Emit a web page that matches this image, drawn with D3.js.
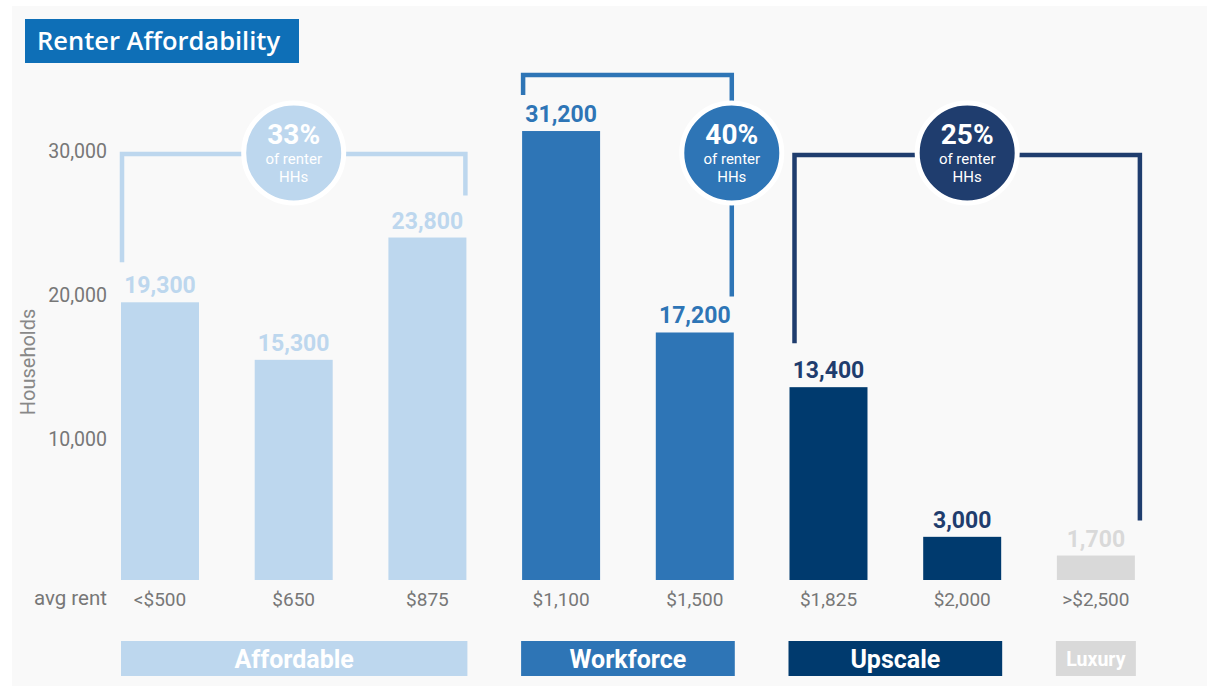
<!DOCTYPE html>
<html><head><meta charset="utf-8">
<script src="https://cdn.jsdelivr.net/npm/d3@7"></script>
<style>body{margin:0;background:#fff;}svg{display:block;font-family:Roboto,"Open Sans",sans-serif;}</style>
</head><body>
<svg id="c" width="1207" height="686"></svg>
<script>
const categories = ["<$500","$650","$875","$1,100","$1,500","$1,825","$2,000",">$2,500"];
const households = [19300,15300,23800,31200,17200,13400,3000,1700];
const segmentOf = ["Affordable","Affordable","Affordable","Workforce","Workforce","Upscale","Upscale","Luxury"];
const segments = ["Affordable","Workforce","Upscale","Luxury"];
const segmentShare = ["33%","40%","25%",null];
const yTicks = [10000,20000,30000];
const colors = {Affordable:"#bdd7ee",Workforce:"#2e75b6",Upscale:"#003a6e",Luxury:"#d9d9d9"};
const bracketColors = {Affordable:"#bdd7ee",Workforce:"#2e75b6",Upscale:"#1f3d6e"};

const svg = d3.select("#c");
svg.append("rect").attr("x",12).attr("y",6).attr("width",1195).attr("height",680).attr("fill","#f9f9f9");

// title
svg.append("rect").attr("x",25).attr("y",19).attr("width",274).attr("height",44).attr("fill","#0e6fb7");
svg.append("text").attr("x",37).attr("y",50).attr("fill","#fff").attr("font-family","'Open Sans',sans-serif")
  .attr("font-size",25.5).attr("font-weight",600).text("Renter Affordability");

const step = 133.7, pi = 0.4167, po = 0.2;
const r0 = 121 - step*po;
const x = d3.scaleBand().domain(categories).range([r0, r0 + step*(categories.length - pi + 2*po)]).paddingInner(pi).paddingOuter(po);
const y = d3.scaleLinear().domain([0,30000]).range([580,148.3]);
const bw = x.bandwidth();

// y axis
const yAxis = d3.axisLeft(y).tickValues(yTicks).tickFormat(d3.format(",")).tickSize(0).tickPadding(0);
const ya = svg.append("g").attr("transform","translate(107,3)").call(yAxis);
ya.select(".domain").remove();
ya.selectAll("text").attr("font-size",19.5).attr("fill","#777").attr("font-family","Roboto,sans-serif");
svg.append("text").attr("transform","translate(35,362) rotate(-90)").attr("text-anchor","middle")
  .attr("font-size",20).attr("fill","#888").text("Households");

// x axis
const xAxis = d3.axisBottom(x).tickSize(0).tickPadding(0);
const xa = svg.append("g").attr("transform","translate(0,592)").call(xAxis);
xa.select(".domain").remove();
xa.selectAll("text").attr("font-size",19).attr("fill","#777").attr("font-family","Roboto,sans-serif");
svg.append("text").attr("x",107).attr("y",605).attr("text-anchor","end").attr("font-size",20.5).attr("fill","#777").text("avg rent");

// bars
svg.selectAll(".bar").data(categories).join("rect").attr("class","bar")
  .attr("x",d=>x(d)).attr("width",bw)
  .attr("y",(d,i)=>y(households[i])).attr("height",(d,i)=>y(0)-y(households[i]))
  .attr("fill",(d,i)=>colors[segmentOf[i]]);
svg.selectAll(".val").data(categories).join("text").attr("class","val")
  .attr("x",d=>x(d)+bw/2).attr("y",(d,i)=>y(households[i])-9)
  .attr("text-anchor","middle").attr("font-size",23).attr("font-weight",700)
  .attr("fill",(d,i)=>segmentOf[i]==="Upscale"?"#1f3d6e":colors[segmentOf[i]])
  .text((d,i)=>d3.format(",")(households[i]));

// segment bands
segments.forEach(s=>{
  const idx = categories.map((c,i)=>i).filter(i=>segmentOf[i]===s);
  const x0 = x(categories[idx[0]]) - (s==="Affordable"?0:1);
  const x1 = x(categories[idx[idx.length-1]]) + bw + 1;
  svg.append("rect").attr("x",x0).attr("y",641).attr("width",x1-x0).attr("height",35).attr("fill",colors[s]);
  svg.append("text").attr("x",(x0+x1)/2).attr("y",s==="Luxury"?666:668).attr("text-anchor","middle")
    .attr("fill","#fff").attr("font-weight",700).attr("font-size",s==="Luxury"?19.5:25).text(s);
});

// brackets
const sw = 4.5;
function bracket(col, xl, yl, xr, yr, top){
  svg.append("path").attr("d",`M${xl},${yl}V${top}H${xr}V${yr}`).attr("fill","none")
    .attr("stroke",col).attr("stroke-width",sw).attr("stroke-linejoin","miter");
}
function bubble(cx, cy, col, pct){
  svg.append("circle").attr("cx",cx).attr("cy",cy).attr("r",50).attr("fill",col).attr("stroke","#fff").attr("stroke-width",5);
  svg.append("text").attr("x",cx).attr("y",cy-9).attr("text-anchor","middle").attr("fill","#fff").attr("font-weight",700).attr("font-size",28).text(pct);
  svg.append("text").attr("x",cx).attr("y",cy+11).attr("text-anchor","middle").attr("fill","#fff").attr("font-size",15).text("of renter");
  svg.append("text").attr("x",cx).attr("y",cy+29).attr("text-anchor","middle").attr("fill","#fff").attr("font-size",15).text("HHs");
}
// Affordable
{
  const xl = x(categories[0])+1, xr = x(categories[2])+bw-1;
  bracket(bracketColors.Affordable, xl, y(households[0])-40, xr, y(households[2])-42, 154);
  bubble((xl+xr)/2, 153, bracketColors.Affordable, segmentShare[0]);
}
// Workforce
{
  const xl = x(categories[3])+1, xr = x(categories[4])+bw-2;
  bracket(bracketColors.Workforce, xl, y(households[3])-36, xr, y(households[4])-36, 75);
  bubble(xr, 153, bracketColors.Workforce, segmentShare[1]);
}
// Upscale
{
  const xl = x(categories[5])+5, xr = x(categories[7])+bw+5;
  bracket(bracketColors.Upscale, xl, y(households[5])-44, xr, y(households[7])-35, 155);
  bubble((xl+xr)/2, 153, bracketColors.Upscale, segmentShare[2]);
}
</script>
</body></html>
